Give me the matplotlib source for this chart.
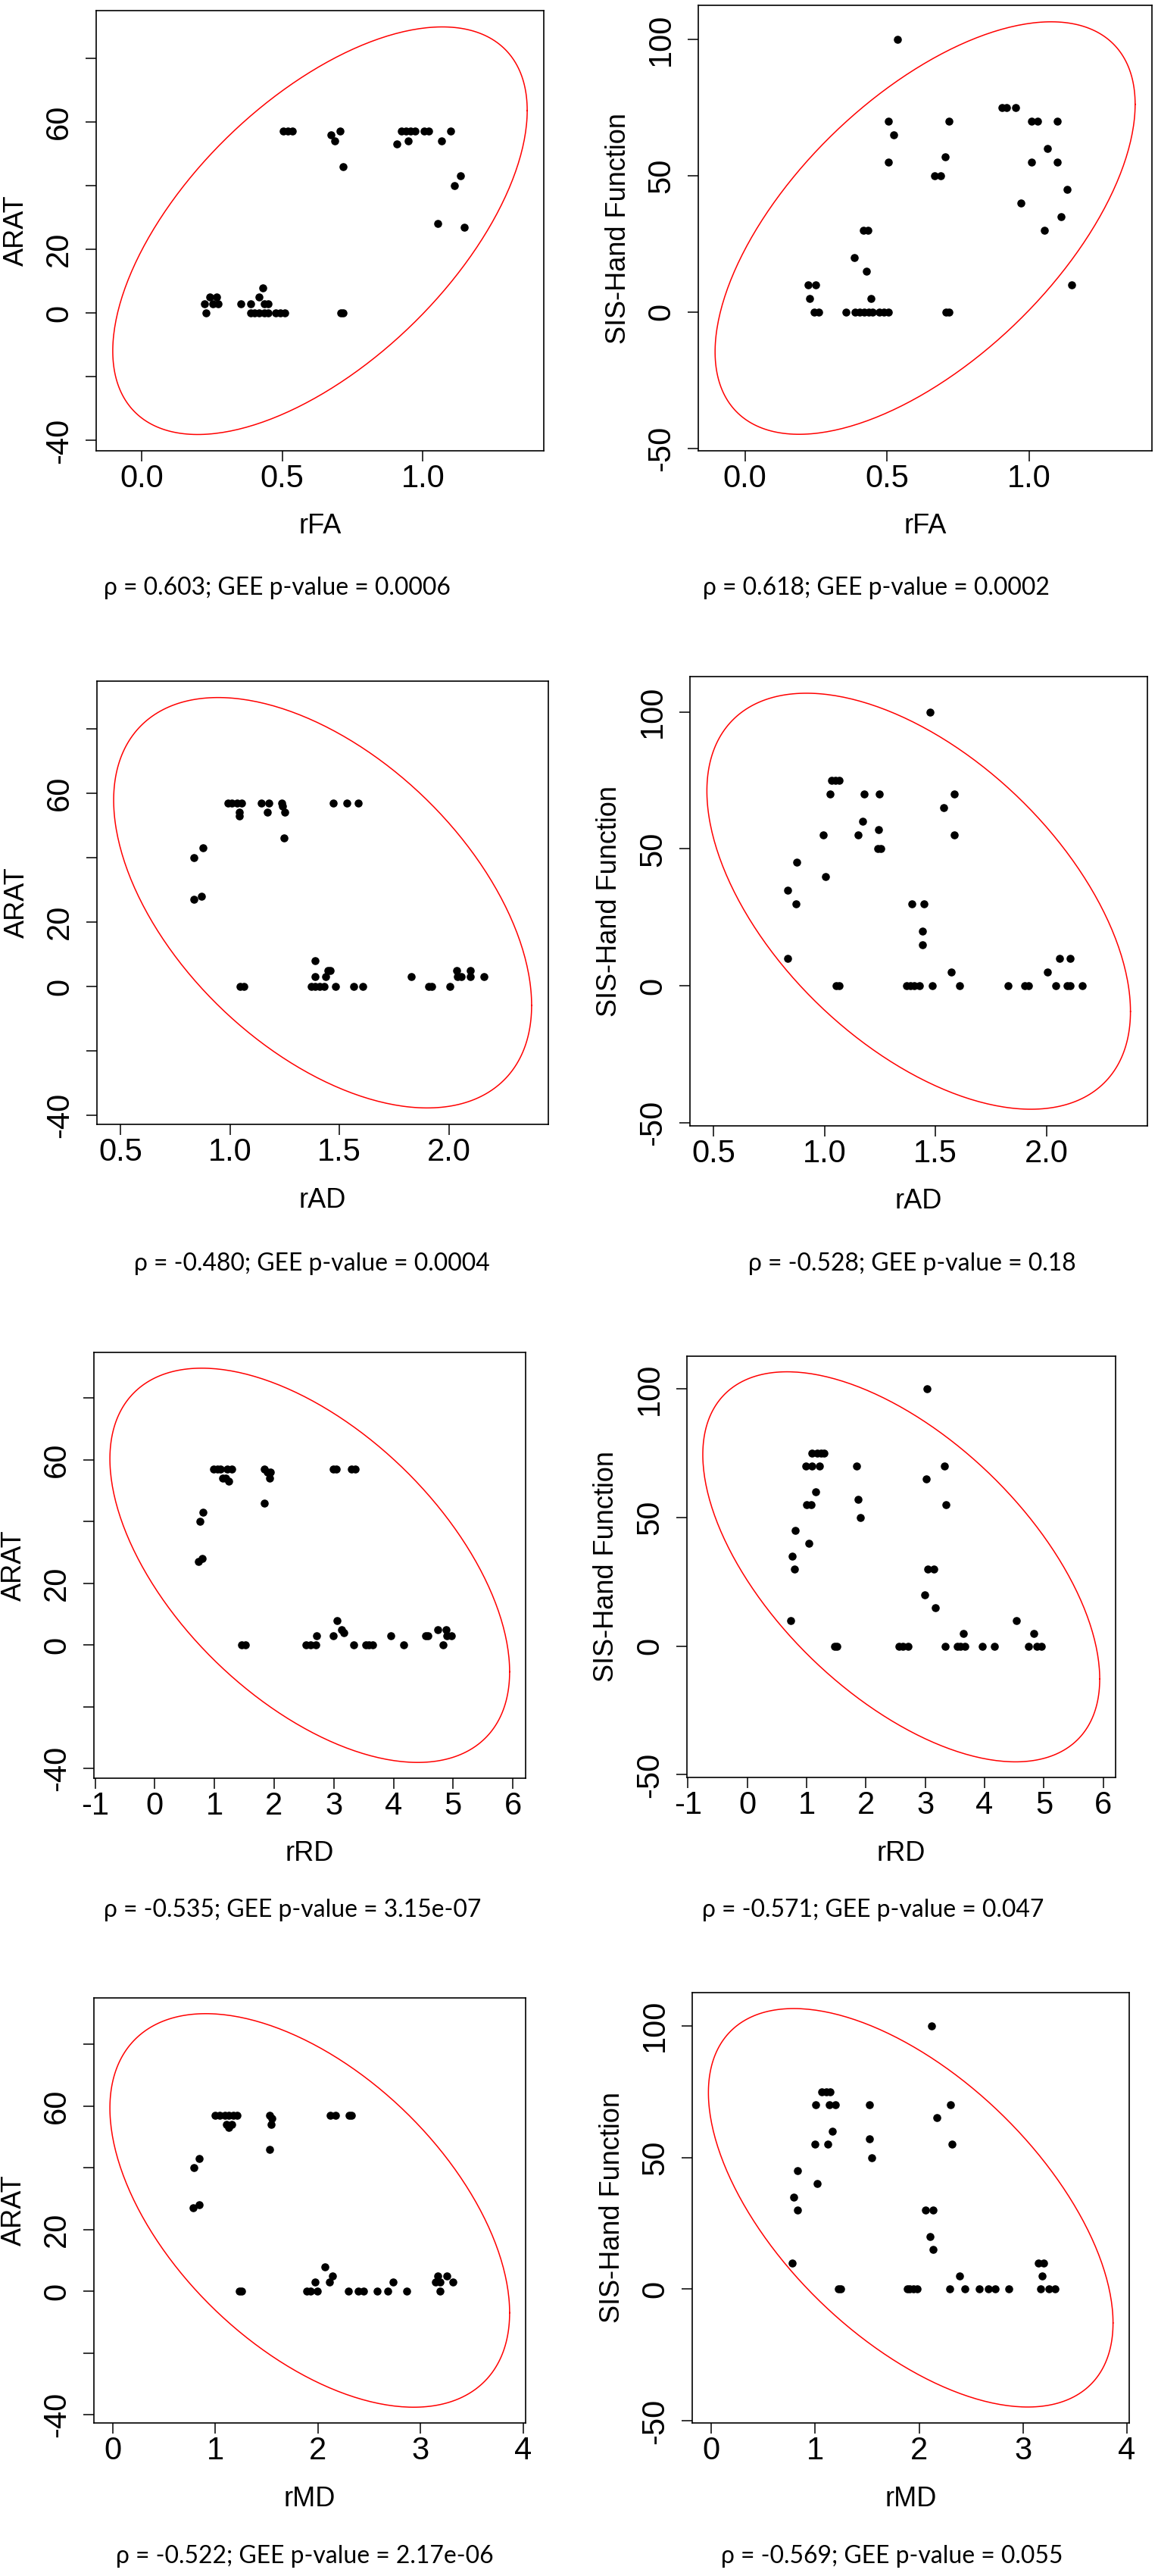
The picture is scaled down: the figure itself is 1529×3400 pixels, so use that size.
import numpy as np
import matplotlib.pyplot as plt

W, H = 1529, 3400
plt.rcParams['font.family'] = ['Liberation Sans', 'DejaVu Sans']

# ---- data ----
# rFA vs ARAT
rfa_arat_x = [0.503, 0.52, 0.535, 0.706, 0.923, 0.940, 0.956, 0.971, 1.004, 1.021, 1.099,
              0.672, 0.6875, 0.949, 1.066, 0.908, 0.717, 1.133, 1.112, 1.053, 1.148, 0.431,
              0.242, 0.266, 0.418, 0.224, 0.253, 0.271, 0.352, 0.387, 0.435, 0.45,
              0.229, 0.387, 0.402, 0.418, 0.435, 0.45, 0.477, 0.492, 0.508, 0.708, 0.717]
rfa_arat_y = [57, 57, 57, 57, 57, 57, 57, 57, 57, 57, 57,
              56, 54, 54, 54, 53, 46, 43, 40, 28, 27, 8,
              5, 5, 5, 3, 3, 3, 3, 3, 3, 3,
              0, 0, 0, 0, 0, 0, 0, 0, 0, 0, 0]

# rFA vs SIS-Hand Function
rfa_sis_x = [0.536, 0.906, 0.922, 0.953, 0.506, 0.718, 1.009, 1.030, 1.100, 0.525, 1.066,
             0.705, 0.506, 1.009, 1.100, 0.669, 0.690, 1.134, 0.973, 1.113, 0.417, 0.433,
             1.055, 0.386, 0.428, 0.223, 0.249, 1.151, 0.228, 0.443,
             0.245, 0.261, 0.355, 0.387, 0.404, 0.421, 0.437, 0.45, 0.473, 0.489, 0.506,
             0.709, 0.718]
rfa_sis_y = [100, 75, 75, 75, 70, 70, 70, 70, 70, 65, 60,
             57, 55, 55, 55, 50, 50, 45, 40, 35, 30, 30,
             30, 20, 15, 10, 10, 10, 5, 5,
             0, 0, 0, 0, 0, 0, 0, 0, 0, 0, 0,
             0, 0]

# rAD vs ARAT
rad_arat_x = [0.989, 1.009, 1.031, 1.051, 1.144, 1.178, 1.235, 1.471, 1.534, 1.585,
              1.240, 1.171, 1.251, 1.042, 1.042, 1.245, 0.875, 0.833, 0.870, 0.833, 1.390,
              1.446, 1.456, 2.036, 2.098, 1.390, 1.436, 1.827, 2.038, 2.056, 2.098, 2.160,
              1.047, 1.064, 1.370, 1.390, 1.410, 1.431, 1.481, 1.566, 1.608, 1.906, 1.923,
              2.003]
rad_arat_y = [57, 57, 57, 57, 57, 57, 57, 57, 57, 57,
              56, 54, 54, 54, 53, 46, 43, 40, 28, 27, 8,
              5, 5, 5, 5, 3, 3, 3, 3, 3, 3, 3,
              0, 0, 0, 0, 0, 0, 0, 0, 0, 0, 0,
              0]

# rAD vs SIS-Hand Function
rad_sis_x = [1.474, 1.031, 1.048, 1.065, 1.026, 1.178, 1.248, 1.586, 1.537, 1.173, 1.243,
             0.994, 1.150, 1.586, 1.240, 1.253, 0.876, 1.006, 0.834, 0.871, 1.392, 1.449,
             1.440, 1.440, 0.834, 2.058, 2.107, 1.569, 2.005,
             1.053, 1.066, 1.370, 1.387, 1.404, 1.429, 1.484, 1.607, 1.826, 1.903, 1.920,
             2.042, 2.092, 2.108, 2.160]
rad_sis_y = [100, 75, 75, 75, 70, 70, 70, 70, 65, 60, 57,
             55, 55, 55, 50, 50, 45, 40, 35, 30, 30, 30,
             20, 15, 10, 10, 10, 5, 5,
             0, 0, 0, 0, 0, 0, 0, 0, 0, 0, 0,
             0, 0, 0, 0]

# rRD vs ARAT
rrd_arat_x = [0.981, 1.042, 1.104, 1.214, 1.288, 1.839, 2.992, 3.041, 3.299, 3.36,
              1.888, 1.931, 1.14, 1.19, 1.919, 1.245, 1.839, 0.809, 0.754, 0.791, 0.736,
              3.053, 3.127, 4.739, 4.887, 3.17, 2.716, 2.992, 3.961, 4.537, 4.580, 4.893,
              4.966, 1.453, 1.514, 2.538, 2.606, 2.698, 3.329, 3.531, 3.593, 3.654, 4.169,
              4.831]
rrd_arat_y = [57, 57, 57, 57, 57, 57, 57, 57, 57, 57,
              56, 56, 54, 54, 54, 53, 46, 43, 40, 28, 27,
              8, 5, 5, 5, 4, 3, 3, 3, 3, 3, 3,
              3, 0, 0, 0, 0, 0, 0, 0, 0, 0, 0,
              0]

# rRD vs SIS-Hand Function
rrd_sis_x = [3.032, 1.092, 1.173, 1.248, 1.298, 0.986, 1.092, 1.217, 1.847, 3.319, 3.013,
             1.154, 1.871, 0.998, 1.073, 3.350, 1.909, 0.811, 1.042, 0.755, 0.798, 3.044,
             3.138, 2.994, 3.163, 0.736, 4.535, 3.637, 4.822,
             1.478, 1.51, 2.558, 2.620, 2.714, 3.337, 3.537, 3.587, 3.668, 3.961, 4.161,
             4.741, 4.885, 4.959]
rrd_sis_y = [100, 75, 75, 75, 75, 70, 70, 70, 70, 70, 65,
             60, 57, 55, 55, 55, 50, 45, 40, 35, 30, 30,
             30, 20, 15, 10, 10, 5, 5,
             0, 0, 0, 0, 0, 0, 0, 0, 0, 0, 0,
             0, 0, 0]

# rMD vs ARAT
rmd_arat_x = [1.0, 1.043, 1.089, 1.132, 1.175, 1.214, 1.529, 2.118, 2.168, 2.304, 2.329,
              1.554, 1.107, 1.161, 1.546, 1.132, 1.529, 0.839, 0.793, 0.839, 0.779, 2.064,
              2.143, 3.168, 3.257, 1.968, 2.114, 2.732, 3.143, 3.186, 3.314,
              1.232, 1.254, 1.893, 1.929, 1.993, 2.296, 2.393, 2.446, 2.579, 2.679, 2.864,
              3.186]
rmd_arat_y = [57, 57, 57, 57, 57, 57, 57, 57, 57, 57, 57,
              56, 54, 54, 54, 53, 46, 43, 40, 28, 27, 8,
              5, 5, 5, 3, 3, 3, 3, 3, 3,
              0, 0, 0, 0, 0, 0, 0, 0, 0, 0, 0,
              0]

# rMD vs SIS-Hand Function
rmd_sis_x = [2.118, 1.061, 1.104, 1.146, 1.007, 1.132, 1.196, 1.525, 2.304, 2.171, 1.161,
             1.525, 1.0, 1.121, 2.314, 1.543, 0.832, 1.018, 0.789, 0.832, 2.061, 2.136,
             2.107, 2.136, 0.779, 3.15, 3.196, 2.393, 3.182,
             1.225, 1.246, 1.886, 1.911, 1.946, 1.982, 2.296, 2.439, 2.582, 2.668, 2.732,
             2.864, 3.168, 3.25, 3.311]
rmd_sis_y = [100, 75, 75, 75, 70, 70, 70, 70, 70, 65, 60,
             57, 55, 55, 55, 50, 45, 40, 35, 30, 30, 30,
             20, 15, 10, 10, 10, 5, 5,
             0, 0, 0, 0, 0, 0, 0, 0, 0, 0, 0,
             0, 0, 0, 0]

# ellipses: centre x, half-width x, centre y, half-height y, correlation
ell_rfa_arat = [0.634, 0.737, 25.85, 63.95, 0.59]
ell_rfa_sis = [0.6345, 0.7395, 30.8, 75.7, 0.60]
ell_rad_arat = [1.423, 0.955, 26.0, 63.7, -0.50]
ell_rad_sis = [1.424, 0.954, 30.9, 75.9, -0.53]
ell_rrd_arat = [2.597, 3.35, 25.85, 63.85, -0.54]
ell_rrd_sis = [2.595, 3.344, 30.8, 75.8, -0.575]
ell_rmd_arat = [1.9195, 1.9485, 26.2, 63.8, -0.52]
ell_rmd_sis = [1.9195, 1.9485, 30.9, 75.6, -0.578]

stats = ["ρ = 0.603; GEE p-value = 0.0006", "ρ = 0.618; GEE p-value = 0.0002",
         "ρ = -0.480; GEE p-value = 0.0004", "ρ = -0.528; GEE p-value = 0.18",
         "ρ = -0.535; GEE p-value = 3.15e-07", "ρ = -0.571; GEE p-value = 0.047",
         "ρ = -0.522; GEE p-value = 2.17e-06", "ρ = -0.569; GEE p-value = 0.055"]

arat_ticks = [-40, -20, 0, 20, 40, 60, 80]
arat_labels = ['-40', '', '0', '20', '', '60', '']
sis_ticks = [-50, 0, 50, 100]
sis_labels = ['-50', '0', '50', '100']


def panel(box, x, y, ell, xticks, xlabels, xname, yticks, ylabels, yname):
    l, t, r, b = box
    ax = fig.add_axes([l / W, 1 - b / H, (r - l) / W, (b - t) / H])
    cx, sx, cy, sy, rho = ell
    tt = np.linspace(0, 2 * np.pi, 300)
    d = np.arccos(rho)
    ax.plot(cx + sx * np.cos(tt), cy + sy * np.cos(tt - d), color='red', lw=1.1)
    ax.plot(x, y, 'o', color='black', ms=7.6, mew=0)
    # R style: ellipse range padded by 4%
    ax.set_xlim(cx - 1.08 * sx, cx + 1.08 * sx)
    ax.set_ylim(cy - 1.08 * sy, cy + 1.08 * sy)
    ax.set_xticks(xticks)
    ax.set_xticklabels(xlabels, fontsize=30)
    ax.set_yticks(yticks)
    ax.set_yticklabels([])
    ax.tick_params(length=10, width=1.1)
    ax.tick_params(axis='x', pad=2)
    # y tick labels drawn parallel to the axis, like R
    tr = ax.get_yaxis_transform()
    for v, lab in zip(yticks, ylabels):
        ax.text(-49 / (r - l), v, lab, transform=tr, rotation=90, fontsize=30,
                ha='center', va='center', clip_on=False)
    for s in ax.spines.values():
        s.set_linewidth(1.2)
    ax.set_xlabel(xname, fontsize=26)
    ax.set_ylabel(yname, fontsize=26)
    ax.xaxis.set_label_coords(0.5, -100 / (b - t))
    ax.yaxis.set_label_coords(-106 / (r - l), 0.5)
    ax.xaxis.label.set_va('center')
    ax.yaxis.label.set_va('center')
    return ax


fig = plt.figure(figsize=(W / 100, H / 100), dpi=100)

panel((127, 14, 718, 595), rfa_arat_x, rfa_arat_y, ell_rfa_arat,
      [0, 0.5, 1.0], ['0.0', '0.5', '1.0'], 'rFA', arat_ticks, arat_labels, 'ARAT')
panel((922, 7, 1521, 595), rfa_sis_x, rfa_sis_y, ell_rfa_sis,
      [0, 0.5, 1.0], ['0.0', '0.5', '1.0'], 'rFA', sis_ticks, sis_labels, 'SIS-Hand Function')
panel((128, 899, 724, 1484), rad_arat_x, rad_arat_y, ell_rad_arat,
      [0.5, 1.0, 1.5, 2.0], ['0.5', '1.0', '1.5', '2.0'], 'rAD', arat_ticks, arat_labels, 'ARAT')
panel((911, 893, 1515, 1486), rad_sis_x, rad_sis_y, ell_rad_sis,
      [0.5, 1.0, 1.5, 2.0], ['0.5', '1.0', '1.5', '2.0'], 'rAD', sis_ticks, sis_labels,
      'SIS-Hand Function')
panel((124, 1785, 694, 2347), rrd_arat_x, rrd_arat_y, ell_rrd_arat,
      list(range(-1, 7)), [str(v) for v in range(-1, 7)], 'rRD', arat_ticks, arat_labels, 'ARAT')
panel((907, 1790, 1473, 2346), rrd_sis_x, rrd_sis_y, ell_rrd_sis,
      list(range(-1, 7)), [str(v) for v in range(-1, 7)], 'rRD', sis_ticks, sis_labels,
      'SIS-Hand Function')
panel((124, 2637, 694, 3198), rmd_arat_x, rmd_arat_y, ell_rmd_arat,
      list(range(0, 5)), [str(v) for v in range(0, 5)], 'rMD', arat_ticks, arat_labels, 'ARAT')
panel((914, 2630, 1491, 3198), rmd_sis_x, rmd_sis_y, ell_rmd_sis,
      list(range(0, 5)), [str(v) for v in range(0, 5)], 'rMD', sis_ticks, sis_labels,
      'SIS-Hand Function')

# caption lines under each panel; size chosen so the first line is ~458 px wide
text_pos = [(366, 776), (1157, 776), (412, 1668), (1204, 1668),
            (386, 2521), (1153, 2521), (402, 3374), (1178, 3374)]
captions = [fig.text(tx / W, 1 - ty / H, s, ha='center', va='center', fontsize=24,
                     family=['Lato', 'DejaVu Sans'])
            for s, (tx, ty) in zip(stats, text_pos)]
rend = fig.canvas.get_renderer()
w0 = captions[0].get_window_extent(rend).width
size = 24 * 458 / w0
for c in captions:
    c.set_fontsize(size)

fig.savefig('out.png', dpi=100)
